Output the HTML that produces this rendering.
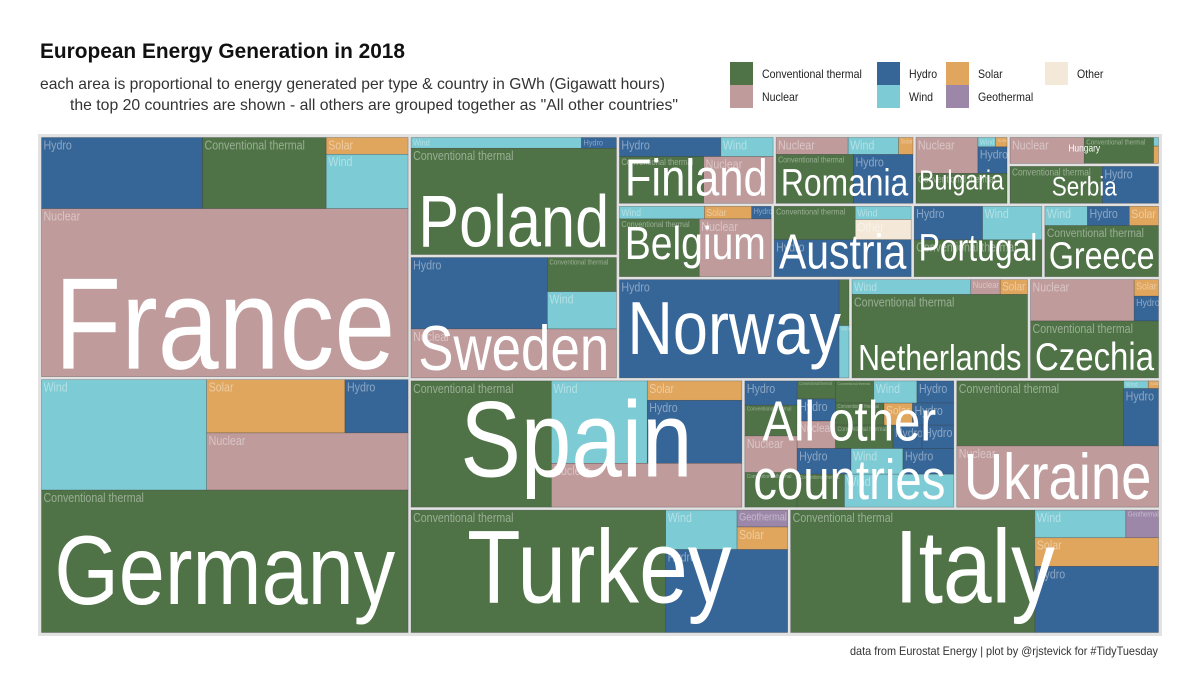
<!DOCTYPE html>
<html><head><meta charset="utf-8">
<style>
html,body{margin:0;padding:0;background:#fff;}
svg{display:block;font-family:"Liberation Sans",sans-serif;}
</style></head>
<body>
<svg id="chart" width="1200" height="700" viewBox="0 0 1200 700" xmlns="http://www.w3.org/2000/svg">
  <rect width="1200" height="700" fill="#fff"/>
  <text x="40" y="58" font-size="21" font-weight="bold" fill="#111" textLength="365" lengthAdjust="spacingAndGlyphs">European Energy Generation in 2018</text>
  <text x="40" y="89" font-size="16" fill="#333" textLength="625" lengthAdjust="spacingAndGlyphs">each area is proportional to energy generated per type &amp; country in GWh (Gigawatt hours)</text>
  <text x="70" y="110" font-size="16" fill="#333" textLength="608" lengthAdjust="spacingAndGlyphs">the top 20 countries are shown - all others are grouped together as "All other countries"</text>
  <g id="legend"></g>
  <rect x="38" y="134" width="1124" height="502" fill="#e2e2e2"/>
  <g id="tiles"></g>
  <g id="labels"></g>
  <text x="1158" y="655" font-size="12" fill="#333" text-anchor="end" textLength="308" lengthAdjust="spacingAndGlyphs">data from Eurostat Energy | plot by @rjstevick for #TidyTuesday</text>
</svg>
<script>
// ---- data (TWh-scale estimates) ----
const countries = ['France','Germany','Turkey','Italy','Spain','Poland','Sweden','Norway','Ukraine','Netherlands','Czechia','Belgium','Finland','Austria','Romania','Portugal','Greece','Bulgaria','Serbia','Hungary'];
const thermal = [55,326,197,189,112,139,15,2.9,69,94,47,30,25.7,17.7,24.7,30.7,38,18,23,12.5];
const nuclear = [385,72,0,0,52.8,0,64,0,78.6,2.8,27.7,27,21.2,0,8,0,0,14.7,0,13.4];
const hydro   = [71.6,21,64,51.7,37.7,2.4,62,138,12.7,0,3.9,1.6,12.6,33,19,15,5.3,5.1,14,0];
const wind    = [27.8,114,17.8,15.9,50,11.7,16.4,3.3,1.2,11.3,0,7,6.5,4.8,5.6,13,5.4,1.1,0,0.3];
const solar   = [8.6,46,7.2,22.4,11.6,0,0,0,0.5,2.6,2.6,3.9,0,0,1.6,0,3.7,0.7,0,0.6];
const geo     = [0,0,5.4,5.7,0,0,0,0,0,0,0,0,0,0,0,0,0,0,0,0];
const other   = [0,0,0,0,0,0,0,0,0,0,0,0,0,7.4,0,0,0,0,0,0];
const otherCountriesTypes  = ['hydro','thermal','nuclear','thermal','thermal','hydro','nuclear','thermal','wind','hydro','thermal','solar','hydro','thermal','hydro','hydro','hydro','wind','hydro','thermal','wind'];
const otherCountriesValues = [8.1,10.2,12.2,11.5,4.4,5.4,6.7,5.4,6.1,5.2,6.8,4,5.8,8.5,4.3,4.7,8.8,8.5,8.3,9.9,22.9];
const typeKeys   = ['thermal','nuclear','hydro','wind','solar','geo','other'];
const typeNames  = ['Conventional thermal','Nuclear','Hydro','Wind','Solar','Geothermal','Other'];
const typeColors = ['#4f7346','#bf9b9c','#366598','#7dcbd4','#e0a65e','#9c87a9','#f4e9d8'];
const series = {thermal, nuclear, hydro, wind, solar, geo, other};

// ---- structure of the treemap (split directions only) ----
const countryLayouts = {
  France:['v',['h','hydro','thermal',['v','solar','wind']],'nuclear'],
  Germany:['v',['h','wind',['v',['h','solar','hydro'],'nuclear']],'thermal'],
  Turkey:['h','thermal',['v',['h','wind',['v','geo','solar']],'hydro']],
  Italy:['h','thermal',['v',['h','wind','geo'],'solar','hydro']],
  Spain:['h','thermal',['v',['h','wind',['v','solar','hydro']],'nuclear']],
  Poland:['v',['h','wind','hydro'],'thermal'],
  Sweden:['v',['h','hydro',['v','thermal','wind']],'nuclear'],
  Norway:['h','hydro',['v','thermal','wind']],
  Ukraine:['v',['h','thermal',['v',['h','wind','solar'],'hydro']],'nuclear'],
  Netherlands:['v',['h','wind','nuclear','solar'],'thermal'],
  Czechia:['v',['h','nuclear',['v','solar','hydro']],'thermal'],
  Belgium:['v',['h','wind','solar','hydro'],['h','thermal','nuclear']],
  Finland:['v',['h','hydro','wind'],['h','thermal','nuclear']],
  Austria:['v',['h','thermal',['v','wind','other']],'hydro'],
  Romania:['v',['h','nuclear','wind','solar'],['h','thermal','hydro']],
  Portugal:['v',['h','hydro','wind'],'thermal'],
  Greece:['v',['h','wind','hydro','solar'],'thermal'],
  Bulgaria:['v',['h','nuclear',['v',['h','wind','solar'],'hydro']],'thermal'],
  Serbia:['h','thermal','hydro'],
  Hungary:['h','nuclear','thermal',['v','wind','solar']],
  Others:['h',['v','o0','o1','o2','o3'],['v',['h',['v','o4','o5','o6'],['v',['h','o7','o8','o9'],['h','o10','o11','o12'],['h','o13','o14','o15']]],['h','o16','o17','o18'],['h','o19','o20']]]
};
const topLayout = ['h',['v','France','Germany'],['v',['h',['v','Poland','Sweden'],['v',['h','Finland','Romania','Bulgaria',['v','Hungary','Serbia']],['h','Belgium','Austria','Portugal','Greece'],['h','Norway','Netherlands','Czechia']]],['h','Spain','Others','Ukraine'],['h','Turkey','Italy']]];

const NS='http://www.w3.org/2000/svg';
const tiles=document.getElementById('tiles'), labels=document.getElementById('labels'), legend=document.getElementById('legend');
function mk(tag,attrs,parent){const e=document.createElementNS(NS,tag);for(const k in attrs)e.setAttribute(k,attrs[k]);parent.appendChild(e);return e;}
const slug=s=>s.toLowerCase().replace(/[^a-z0-9]+/g,'-');

function leafVal(ci,leaf){
  if(ci===-1){const k=+leaf.slice(1);return otherCountriesValues[k];}
  return series[leaf][ci];
}
function leafType(ci,leaf){return ci===-1?otherCountriesTypes[+leaf.slice(1)]:leaf;}
function sumNode(node,ci){
  if(typeof node==='string'){
    if(ci===undefined){return countryTotal(node);}
    return leafVal(ci,node);
  }
  let s=0;for(let i=1;i<node.length;i++)s+=sumNode(node[i],ci);return s;
}
function countryTotal(name){const ci=name==='Others'?-1:countries.indexOf(name);return sumNode(countryLayouts[name],ci);}
function split(node,x,y,w,h,ci,cb){
  if(typeof node==='string'){cb(node,x,y,w,h);return;}
  const dir=node[0];const kids=node.slice(1);
  const tot=kids.reduce((a,k)=>a+sumNode(k,ci),0);
  let off=0;
  kids.forEach(k=>{const v=sumNode(k,ci);if(v<=0)return;const f=v/tot;
    if(dir==='h'){split(k,x+off*w,y,f*w,h,ci,cb);}else{split(k,x,y+off*h,w,f*h,ci,cb);}
    off+=f;});
}

const countryBoxes=[];
split(topLayout,40,136,1120,498,undefined,(name,x,y,w,h)=>{
  const p=1.5;const cx=x+p,cy=y+p,cw=w-2*p,ch=h-2*p;
  const ci=name==='Others'?-1:countries.indexOf(name);
  const g=mk('g',{},tiles);
  
  
  split(countryLayouts[name],cx,cy,cw,ch,ci,(leaf,lx,ly,lw,lh)=>{
    const t=leafType(ci,leaf);const ti=typeKeys.indexOf(t);
    const r=mk('rect',{x:lx,y:ly,width:lw,height:lh,fill:typeColors[ti],stroke:'rgba(50,50,50,0.45)','stroke-width':0.6},g);
    
    
    const txt=typeNames[ti];
    let fs=Math.min(12.5,lw/(txt.length*0.47),lh*0.8);
    if(fs>=3.5){
      const tl=mk('text',{x:lx+2,y:ly+fs*0.95,'font-size':fs,fill:'rgba(255,255,255,0.42)'},g);
      tl.textContent=txt;
      
      
      const wN=tl.getComputedTextLength();
      tl.setAttribute('textLength',wN*0.85);tl.setAttribute('lengthAdjust','spacingAndGlyphs');
    }
  });
  countryBoxes.push({name,x:cx,y:cy,w:cw,h:ch});
});

countryBoxes.forEach(b=>{
  const lines=b.name==='Others'?['All other','countries']:[b.name];
  const desc=/[gjpqy]/.test(lines[lines.length-1]);
  let fs, ls=1.04;
  if(lines.length===1) fs=(b.h-16)/(desc?1.02:0.78); else fs=(b.h-14)/(0.95+ls*(lines.length-1));
  if(b.name==='Hungary') fs=10;
  const els=lines.map(l=>{const t=mk('text',{x:b.x+b.w/2,'font-size':fs,'text-anchor':'middle',fill:'#fff'},labels);t.textContent=l;
    
    
    return t;});
  let maxw=Math.max(...els.map(e=>e.getComputedTextLength()*0.84));
  let sc=Math.min(1,(b.w*0.93)/maxw);
  fs*=sc;
  els.forEach((e,i)=>{e.setAttribute('font-size',fs);const wc=e.getComputedTextLength()*0.84;e.setAttribute('textLength',wc);e.setAttribute('lengthAdjust','spacingAndGlyphs');});
  let base=b.y+b.h-8-(desc?0.21*fs:0);
  if(b.name==='Hungary') base=b.y+14;
  for(let i=els.length-1;i>=0;i--){els[i].setAttribute('y',base);base-=fs*ls;}
});

// legend
const legendCols=[[0,1],[2,3],[4,5],[6]];
const legendX=[730,877,946,1045];
legendCols.forEach((col,ci)=>col.forEach((ti,ri)=>{
  const g=mk('g',{},legend);
  
  
  mk('rect',{x:legendX[ci],y:62+ri*23,width:23,height:23,fill:typeColors[ti]},g);
  const t=mk('text',{x:legendX[ci]+32,y:78+ri*23,'font-size':12,fill:'#222'},g);
  t.textContent=typeNames[ti];
  t.setAttribute('textLength',t.getComputedTextLength()*0.88);t.setAttribute('lengthAdjust','spacingAndGlyphs');
}));
</script>
</body></html>
